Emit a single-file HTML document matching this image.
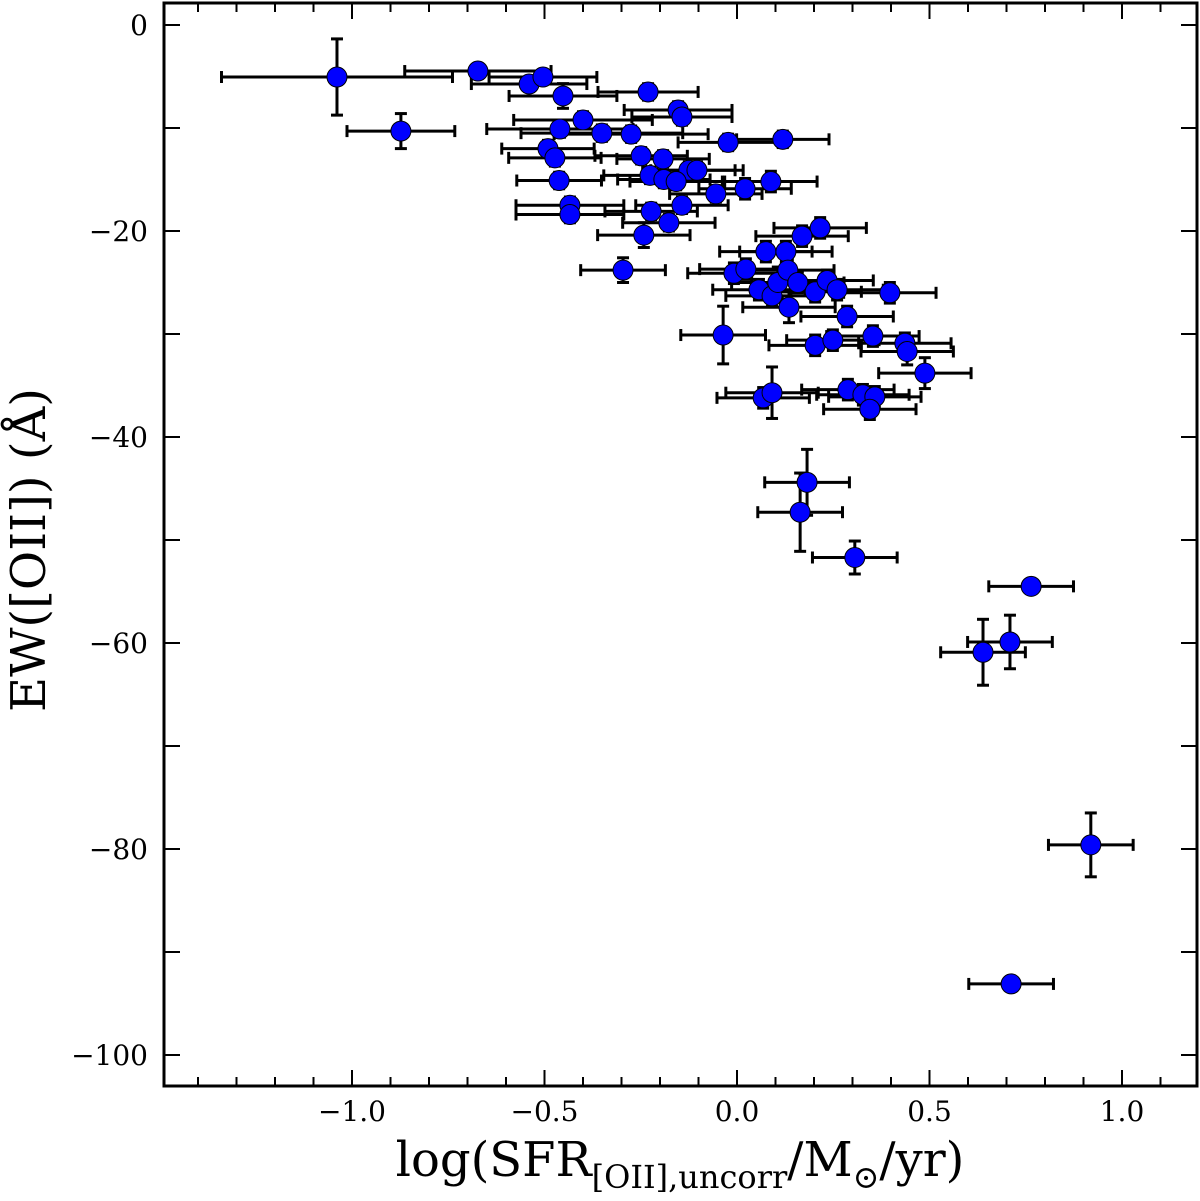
<!DOCTYPE html>
<html><head><meta charset="utf-8"><style>
body{margin:0;background:#fff}
svg text{font-family:"DejaVu Serif","Liberation Serif",serif;fill:#000}
</style></head><body>
<svg id="chart" width="1200" height="1196" xmlns="http://www.w3.org/2000/svg">
<g id="bars"></g>
<g id="pts"></g>
<g id="axes"></g>
</svg>
<script>
const xs=[-1.039,-0.873,-0.673,-0.540,-0.504,-0.452,-0.231,-0.400,-0.460,-0.351,-0.275,-0.153,-0.143,-0.491,-0.473,-0.462,-0.249,-0.192,-0.125,-0.104,-0.226,-0.190,-0.158,-0.055,0.021,0.088,-0.023,0.119,-0.434,-0.434,-0.223,-0.143,-0.177,-0.242,-0.296,0.216,0.169,0.075,0.127,-0.008,0.023,0.057,0.091,0.106,0.132,0.158,0.135,0.203,0.234,0.260,0.397,0.286,-0.036,0.203,0.249,0.353,0.436,0.442,0.488,0.068,0.091,0.288,0.327,0.358,0.345,0.182,0.164,0.306,0.764,0.639,0.709,0.919,0.712];
const ys=[-5.05,-10.3,-4.47,-5.73,-5.05,-6.89,-6.50,-9.22,-10.1,-10.5,-10.6,-8.25,-8.93,-12.0,-12.9,-15.1,-12.7,-13.0,-14.1,-14.1,-14.6,-15.0,-15.2,-16.4,-15.9,-15.2,-11.4,-11.1,-17.5,-18.4,-18.1,-17.5,-19.2,-20.4,-23.8,-19.7,-20.5,-22.0,-22.0,-24.1,-23.7,-25.7,-26.3,-25.0,-23.8,-25.0,-27.4,-25.9,-24.8,-25.7,-26.0,-28.3,-30.1,-31.1,-30.6,-30.2,-30.9,-31.7,-33.8,-36.2,-35.7,-35.4,-35.9,-36.1,-37.3,-44.4,-47.3,-51.7,-54.5,-60.9,-59.9,-79.6,-93.1];
const xerr=[0.30,0.14,0.19,0.15,0.14,0.14,0.13,0.18,0.19,0.21,0.20,0.14,0.13,0.12,0.12,0.11,0.12,0.12,0.12,0.12,0.12,0.12,0.12,0.12,0.12,0.12,0.13,0.12,0.14,0.14,0.12,0.12,0.12,0.12,0.11,0.12,0.12,0.12,0.12,0.12,0.12,0.12,0.12,0.12,0.12,0.12,0.12,0.12,0.12,0.12,0.12,0.12,0.11,0.12,0.12,0.12,0.12,0.12,0.12,0.12,0.12,0.12,0.12,0.12,0.12,0.11,0.11,0.11,0.11,0.11,0.11,0.11,0.11];
const yerr=[3.7,1.7,0.5,0.6,0.6,1.2,0.8,0.8,0.8,0.8,0.8,0.8,0.8,0.8,0.8,0.8,0.8,0.8,0.8,0.8,0.8,0.8,0.8,0.8,1.0,1.0,0.8,0.8,0.8,0.8,0.8,0.8,0.8,1.2,1.2,1.0,1.0,1.0,1.0,1.0,1.0,1.0,1.0,1.5,1.0,1.0,1.5,1.0,1.0,1.0,1.0,1.0,2.8,1.0,1.0,1.0,1.0,1.3,1.5,1.0,2.5,1.0,1.0,1.0,1.0,3.2,3.8,1.6,0.3,3.2,2.6,3.1,0.3];
const xTicks=[-1.0,-0.5,0.0,0.5,1.0];
const xTickLabels=["\u22121.0","\u22120.5","0.0","0.5","1.0"];
const yTicks=[0,-20,-40,-60,-80,-100];
const yTickLabels=["0","\u221220","\u221240","\u221260","\u221280","\u2212100"];
const L=164,R=1197,T=3,B=1086;
const X=v=>737+v*385, Y=v=>25-v*10.3;
const NS="http://www.w3.org/2000/svg";
function mk(tag,par,at){const e=document.createElementNS(NS,tag);for(const k in at)e.setAttribute(k,at[k]);par.appendChild(e);return e;}
const bars=document.getElementById('bars'),pts=document.getElementById('pts'),ax=document.getElementById('axes');
for(let i=0;i<xs.length;i++){
  const g=mk('g',bars,{stroke:'#000','stroke-width':3});
  
  
  const cx=X(xs[i]),cy=Y(ys[i]),x1=X(xs[i]-xerr[i]),x2=X(xs[i]+xerr[i]),y1=Y(ys[i]+yerr[i]),y2=Y(ys[i]-yerr[i]);
  mk('line',g,{x1:x1,x2:x2,y1:cy,y2:cy});
  mk('line',g,{x1:x1,x2:x1,y1:cy-6,y2:cy+6});
  mk('line',g,{x1:x2,x2:x2,y1:cy-6,y2:cy+6});
  mk('line',g,{x1:cx,x2:cx,y1:y1,y2:y2});
  mk('line',g,{x1:cx-6,x2:cx+6,y1:y1,y2:y1});
  mk('line',g,{x1:cx-6,x2:cx+6,y1:y2,y2:y2});
  const c=mk('circle',pts,{cx:cx,cy:cy,r:10,fill:'#0000ff',stroke:'#000','stroke-width':1});
  
  
}
const fr=mk('rect',ax,{x:L,y:T,width:R-L,height:B-T,fill:'none',stroke:'#000','stroke-width':3});


for(let k=-14;k<=11;k++){const v=k/10,px=X(v);const maj=(k%5===0);const len=maj?16:9;
  mk('line',ax,{x1:px,x2:px,y1:B,y2:B-len,stroke:'#000','stroke-width':2});
  mk('line',ax,{x1:px,x2:px,y1:T,y2:T+len,stroke:'#000','stroke-width':2});}
xTicks.forEach((v,i)=>{const t=mk('text',ax,{x:X(v),y:1121,'text-anchor':'middle','font-size':28});t.textContent=xTickLabels[i];
  
  });
for(let v=0;v>=-100;v-=10){const py=Y(v);
  mk('line',ax,{x1:L,x2:L+16,y1:py,y2:py,stroke:'#000','stroke-width':2});
  mk('line',ax,{x1:R,x2:R-16,y1:py,y2:py,stroke:'#000','stroke-width':2});}
yTicks.forEach((v,i)=>{const t=mk('text',ax,{x:148,y:Y(v)+10,'text-anchor':'end','font-size':28});t.textContent=yTickLabels[i];
  
  });
</script>
<svg style="position:absolute;left:0;top:0" width="1200" height="1196">
<text x="680" y="1176" text-anchor="middle" font-size="48">log(SFR<tspan font-size="32" dy="12">[OII],uncorr</tspan><tspan dy="-12">/M</tspan><tspan font-size="32" dy="12">⊙</tspan><tspan dy="-12">/yr)</tspan></text>
<text transform="translate(45,550) rotate(-90)" text-anchor="middle" font-size="48">EW([OII]) (Å)</text>
</svg>
</body></html>
